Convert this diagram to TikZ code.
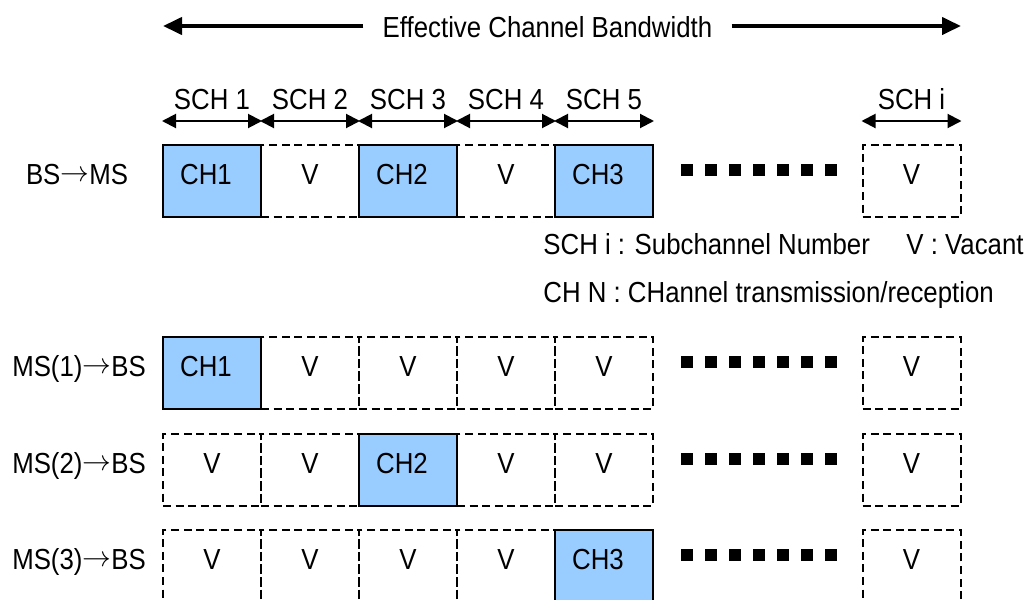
\documentclass[tikz,border=0pt]{standalone}
\usepackage{fontspec}
\setmainfont{Liberation Sans}[FakeStretch=0.89]
\usetikzlibrary{arrows.meta}
\definecolor{boxblue}{RGB}{153,204,255}
\newcommand{\dirarrow}{\raisebox{1.2pt}{$\mathord{\rightarrow}$}}
\begin{document}
\begin{tikzpicture}[x=0.5pt,y=-0.5pt,
  font=\fontsize{14.5pt}{17pt}\selectfont,
  cell/.style={minimum width=49pt, minimum height=36pt, inner sep=0pt,
    text height=10.5pt, text depth=7.5pt},
  vac/.style={cell, draw, dash pattern=on 4pt off 2.3pt, line width=1pt},
  occ/.style={cell, draw, fill=boxblue, line width=1pt},
  bigarrow/.style={line width=2pt, -{Triangle[length=9.5pt,width=8.5pt]}},
  scharrow/.style={line width=1pt, {Triangle[length=7pt,width=7pt]}-{Triangle[length=7pt,width=7pt]}},
  txt/.style={inner sep=0pt, anchor=base},
  lbl/.style={inner sep=0pt, anchor=base west}]
\useasboundingbox (0,0) rectangle (1029,600);
\clip (0,0) rectangle (1029,600);

% effective channel bandwidth
\node[inner ysep=0pt, inner xsep=9.5pt] (bw) at (547.5,27) {Effective Channel Bandwidth};
\coordinate (bwL) at (163,26);
\coordinate (bwR) at (961,26);
\draw[bigarrow] (bw.west |- bwL) -- (bwL);
\draw[bigarrow] (bw.east |- bwR) -- (bwR);

% row 1: BS -> MS (dashed first, solid on top)
\node[vac] (a2) at (310,181) {V};
\node[vac] (a4) at (506,181) {V};
\node[vac] (ai) at (911.5,181) {V};
\node[occ] (a1) at (212,181) {CH1\rule{6pt}{0pt}};
\node[occ] (a3) at (408,181) {CH2\rule{6pt}{0pt}};
\node[occ] (a5) at (604,181) {CH3\rule{6pt}{0pt}};
\node[txt] (la) at (77,184) {BS\dirarrow MS};

% subchannel arrows and labels
\foreach \n/\lab in {a1/SCH 1,a2/SCH 2,a3/SCH 3,a4/SCH 4,a5/SCH 5,ai/SCH i}{
  \draw[scharrow] ([yshift=11.5pt]\n.north west) -- ([yshift=11.5pt]\n.north east);
  \node[txt] (s\n) at ([yshift=17.5pt]\n.north) {\lab};
}

% legend
\node[lbl] (leg1) at (543,254) {SCH i : Subchannel Number};
\node[lbl] (leg2) at (906,254) {V : Vacant};
\node[lbl] (leg3) at (543,302) {CH N : CHannel transmission/reception};

% row 2: MS(1) -> BS
\node[vac] (b2) at (310,373) {V};
\node[vac] (b3) at (408,373) {V};
\node[vac] (b4) at (506,373) {V};
\node[vac] (b5) at (604,373) {V};
\node[vac] (bi) at (911.5,373) {V};
\node[occ] (b1) at (212,373) {CH1\rule{6pt}{0pt}};
\node[txt] (lb) at (79,376) {MS(1)\dirarrow BS};

% row 3: MS(2) -> BS
\node[vac] (c1) at (212,470) {V};
\node[vac] (c2) at (310,470) {V};
\node[vac] (c4) at (506,470) {V};
\node[vac] (c5) at (604,470) {V};
\node[vac] (ci) at (911.5,470) {V};
\node[occ] (c3) at (408,470) {CH2\rule{6pt}{0pt}};
\node[txt] (lc) at (79,473) {MS(2)\dirarrow BS};

% row 4: MS(3) -> BS
\node[vac] (d1) at (212,566) {V};
\node[vac] (d2) at (310,566) {V};
\node[vac] (d3) at (408,566) {V};
\node[vac] (d4) at (506,566) {V};
\node[vac] (di) at (911.5,566) {V};
\node[occ] (d5) at (604,566) {CH3\rule{6pt}{0pt}};
\node[txt] (ld) at (79,569) {MS(3)\dirarrow BS};

% ellipsis squares
\foreach \ty in {145,337,434,530}
  \foreach \k in {0,...,6}
    \fill (681+24*\k,\ty+19) rectangle ++(12,12);
\end{tikzpicture}
\end{document}
